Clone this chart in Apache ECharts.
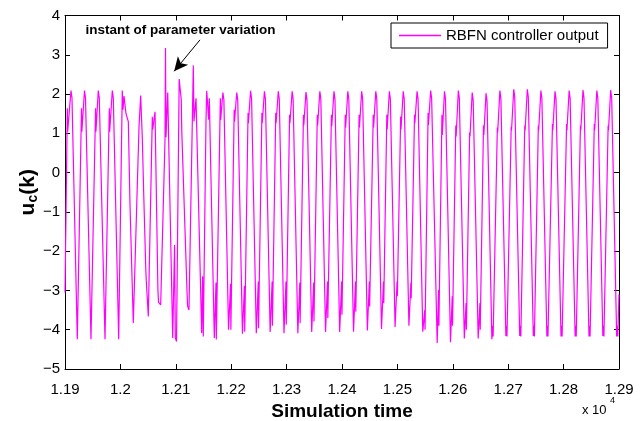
<!DOCTYPE html>
<html>
<head>
<meta charset="utf-8">
<script src="https://cdn.jsdelivr.net/npm/echarts@6/dist/echarts.min.js"></script>
<style>
  html, body { margin: 0; padding: 0; background: #fff; }
  #chart { width: 644px; height: 421px; }
</style>
</head>
<body>
<div id="chart"></div>
<script>
// ---- data (time, controller output) ----
const seriesName = 'RBFN controller output';
const xTickLabels = ['1.19','1.2','1.21','1.22','1.23','1.24','1.25','1.26','1.27','1.28','1.29'];
const yTickLabels = ['−5','−4','−3','−2','−1','0','1','2','3','4'];

const outputBeforeChange = [
  [11900,-3.05],
  [11904.2,1.64],[11904.8,1.04],[11910.8,2.09],[11912.6,1.9],[11922.2,-4.24],
  [11929.8,1.64],[11930.4,1.04],[11935.2,2.09],[11937,1.9],[11946.9,-4.24],
  [11955.2,1.64],[11955.8,1.04],[11960.1,2.09],[11961.9,1.9],[11972.2,-4.24],
  [11980,1.64],[11980.6,1.04],[11985.4,2.09],[11987.2,1.9],[11996.9,-4.24]
];

const outputTransient = [
  [12003.4,2.09],[12004.7,1.6],[12006.5,1.95],[12010.1,1.5],[12014.3,1.3],[12017.3,-0.8],[12023.3,-3.83],
  [12033.6,1.17],[12036.6,1.96],[12039.5,0.9],[12041.3,-0.1],[12041.9,-0.44],[12045.8,-2.45],[12046.7,-2.75],[12050.4,-3.66],
  [12057.6,1.42],[12058.3,1.09],[12062.5,1.55],[12067.7,-2.98],[12068.8,-3.3],[12072.7,-3.37],
  [12080.5,0.83],[12081.4,3.17],[12082.3,0.9],[12085.4,2.04],[12094.4,-4.21],[12097.8,-1.84],[12099.1,-4.2],[12101.3,-4.3],
  [12106.1,2.38],[12109.9,1.85],[12110.8,1.05],[12120.2,-3.0],[12121.3,-3.4],[12123.8,-3.5],
  [12131.6,2.73],[12132.8,1.3],[12136.5,1.89],[12146.7,-4.08],[12148.5,-2.64],[12149.6,-4.17],
  [12154.5,1.3],[12155.8,2.08],[12159.4,1.35],[12160.5,1.89],[12169.5,-4.21],[12172.6,-2.8],[12173.1,-4.25]
];

const outputAfterChange = [
  [12180.4,1.89],[12181,1.34],[12185,2.04],[12186.8,1.85],[12195.2,-4.0],[12198.9,-2.83],[12199.4,-4.0],
  [12205.4,1.6],[12206,1.3],[12210,2.04],[12211.8,1.85],[12220.3,-4.1],[12223.9,-2.89],[12224.4,-4.05],
  [12230.4,1.52],[12231,1.26],[12235,2.08],[12236.8,1.88],[12245.3,-4.09],[12248.9,-2.77],[12249.4,-3.96],
  [12255.4,1.52],[12256,1.26],[12260,2.07],[12261.8,1.87],[12270.3,-4.06],[12273.9,-2.77],[12274.4,-3.9],
  [12280.4,1.52],[12281,1.26],[12285,2.07],[12286.8,1.87],[12295.3,-4.09],[12298.9,-2.77],[12299.4,-3.87],
  [12305.4,1.47],[12306,1.26],[12310,2.07],[12311.8,1.87],[12320.3,-4.09],[12323.9,-2.8],[12324.4,-3.83],
  [12330.4,1.47],[12331,1.2],[12335,2.05],[12336.8,1.85],[12345.3,-4.06],[12348.9,-2.8],[12349.4,-3.79],
  [12355.4,1.47],[12356,1.2],[12360,2.07],[12361.8,1.87],[12370.3,-4.06],[12373.9,-2.77],[12374.4,-3.7],
  [12380.9,1.47],[12381.5,1.18],[12385.5,2.07],[12387.3,1.87],[12395.8,-4.06],[12399.4,-2.77],[12399.9,-3.62],
  [12405.9,1.47],[12406.5,1.15],[12410.5,2.07],[12412.3,1.87],[12420.8,-4.05],[12424.4,-2.77],[12424.9,-3.54],
  [12430.9,1.47],[12431.5,1.15],[12435.5,2.07],[12437.3,1.87],[12445.8,-4.02],[12449.4,-2.77],[12449.9,-3.41],
  [12456.4,1.47],[12457,1.15],[12461,2.07],[12462.8,1.87],[12471.3,-3.98],[12474.9,-2.77],[12475.4,-3.32],
  [12480.9,1.47],[12481.5,1.1],[12485.5,2.07],[12487.3,1.87],[12495.8,-3.93],[12499.4,-2.77],[12499.9,-3.15],
  [12505.9,1.43],[12506.5,1.1],[12510.5,2.07],[12512.3,1.87],[12520.8,-3.9],[12524.4,-2.8],[12524.9,-3.2],
  [12530.9,1.47],[12531.5,1.26],[12535.5,2.07],[12537.3,1.87],[12545.8,-4.05],[12549.4,-3.5],[12549.9,-4.0],
  [12555.4,1.52],[12556,1.21],[12560,2.09],[12561.8,1.89],[12571.8,-4.34],[12574.4,-2.99],[12574.9,-3.9],
  [12580.4,1.47],[12581,0.96],[12585,2.07],[12586.8,1.87],[12595.8,-4.32],[12599,-3.15],[12599.5,-3.9],
  [12605.4,1.2],[12606,0.92],[12610,2.09],[12611.8,1.89],[12620.8,-4.22],[12624,-3.32],[12624.5,-4.0],
  [12630.4,1.02],[12631,0.92],[12635,2.04],[12636.8,1.84],[12645.8,-4.22],[12649,-3.32],[12649.5,-4.0],
  [12655.4,1.2],[12656,0.96],[12660,2.02],[12661.8,1.82],[12670.5,-4.24],[12672.3,-3.9],[12672.8,-4.17],
  [12680.4,1.15],[12681,1.02],[12685,2.09],[12686.8,1.89],[12695.8,-4.16],[12697.3,-3.9],[12697.8,-4.17],
  [12705.4,1.17],[12706,1.07],[12710,2.12],[12711.8,1.92],[12720.8,-4.16],[12722.3,-3.9],[12722.8,-4.17],
  [12729.9,1.2],[12730.5,1.07],[12734.5,2.12],[12736.3,1.92],[12745.3,-4.16],[12746.8,-3.9],[12747.3,-4.17],
  [12754.4,1.2],[12755,1.07],[12759,2.09],[12760.8,1.89],[12769.8,-4.17],[12771.3,-3.9],[12771.8,-4.17],
  [12779.9,1.24],[12780.5,1.07],[12784.5,2.07],[12786.3,1.87],[12795.3,-4.17],[12796.8,-3.9],[12797.3,-4.17],
  [12805.4,1.24],[12806,1.07],[12810,2.09],[12811.8,1.89],[12820.8,-4.17],[12822.3,-3.9],[12822.8,-4.17],
  [12830.4,1.2],[12831,1.07],[12835,2.1],[12836.8,1.9],[12845.8,-4.17],[12847.3,-3.9],[12847.8,-4.17],
  [12855.4,1.24],[12856,1.07],[12860,2.09],[12861.8,1.89],[12870.8,-4.16],[12872.3,-3.9],[12872.8,-4.17],
  [12880.4,1.2],[12881,1.07],[12885,2.1],[12886.8,1.9],[12895.8,-4.17],[12897.3,-3.9],[12897.8,-4.17],
  [12900,-3.1]
];

const rbfnOutput = outputBeforeChange.concat(outputTransient, outputAfterChange);

const FONT = 'Liberation Sans, Arial, Helvetica, sans-serif';
const LINE_COLOR = '#ff00ff';
const chart = echarts.init(document.getElementById('chart'), null, { renderer: 'canvas' });

function axisCommon() {
  return {
    axisLine: { show: true, onZero: false, lineStyle: { color: '#000', width: 1 } },
    axisTick: { show: true, inside: true, length: 5, lineStyle: { color: '#000', width: 1 } },
    splitLine: { show: false },
    nameMoveOverlap: false
  };
}

chart.setOption({
  animation: false,
  backgroundColor: '#fff',
  grid: { left: 65, right: 25, top: 15.5, bottom: 52, containLabel: false, outerBoundsMode: 'none' },
  legend: {
    data: [{ name: seriesName, icon: 'rect', itemStyle: { color: LINE_COLOR, borderWidth: 0, opacity: 1 } }],
    left: 391, top: 23,
    padding: [5, 9, 5, 8],
    borderColor: '#000', borderWidth: 1, borderRadius: 0,
    backgroundColor: '#fff',
    itemWidth: 42, itemHeight: 1.5,
    itemGap: 8,
    inactiveColor: LINE_COLOR,
    inactiveBorderColor: LINE_COLOR,
    textStyle: { fontFamily: FONT, fontSize: 15, color: '#000' }
  },
  xAxis: [
    Object.assign(axisCommon(), {
      type: 'value', min: 11900, max: 12900, interval: 100,
      position: 'bottom',
      axisLabel: {
        color: '#000', fontFamily: FONT, fontSize: 15, margin: 13,
        formatter: function (v) { return xTickLabels[Math.round((v - 11900) / 100)]; }
      },
      name: 'Simulation time', nameLocation: 'middle', nameGap: 33,
      nameTextStyle: { fontFamily: FONT, fontSize: 19, fontWeight: 'bold', color: '#000' }
    }),
    Object.assign(axisCommon(), {
      type: 'value', min: 11900, max: 12900, interval: 100,
      position: 'top', axisLabel: { show: false }
    })
  ],
  yAxis: [
    Object.assign(axisCommon(), {
      type: 'value', min: -5, max: 4, interval: 1,
      position: 'left',
      axisLabel: {
        color: '#000', fontFamily: FONT, fontSize: 15, margin: 5,
        formatter: function (v) { return yTickLabels[Math.round(v + 5)]; }
      },
      name: '{b|u}{s|c}{b|(k)}', nameLocation: 'middle', nameGap: 25, nameRotate: 90,
      nameTextStyle: {
        rich: {
          b: { fontFamily: FONT, fontSize: 21, fontWeight: 'bold', color: '#000' },
          s: { fontFamily: FONT, fontSize: 14, fontWeight: 'bold', color: '#000', verticalAlign: 'bottom', padding: [9, 0, 0, 0] }
        }
      }
    }),
    Object.assign(axisCommon(), {
      type: 'value', min: -5, max: 4, interval: 1,
      position: 'right', axisLabel: { show: false }
    })
  ],
  graphic: [
    { type: 'text', left: 582, top: 404, style: { text: 'x 10', fontFamily: FONT, fontSize: 13, fill: '#000' } },
    { type: 'text', left: 610, top: 396, style: { text: '4', fontFamily: FONT, fontSize: 9, fill: '#000' } }
  ],
  series: [{
    name: seriesName,
    type: 'line',
    data: rbfnOutput,
    xAxisIndex: 0, yAxisIndex: 0,
    showSymbol: false, symbol: 'none',
    lineStyle: { color: LINE_COLOR, width: 1.2 },
    itemStyle: { color: LINE_COLOR },
    clip: true,
    markLine: {
      silent: true,
      symbol: ['none', 'arrow'],
      symbolSize: [10, 14],
      lineStyle: { color: '#000', width: 1, type: 'solid' },
      label: { show: false },
      data: [[ { coord: [12143.7, 3.38] }, { coord: [12097, 2.58] } ]]
    },
    markPoint: {
      silent: true,
      symbol: 'circle', symbolSize: 0,
      data: [{
        coord: [12108.5, 3.63],
        label: {
          show: true, position: 'inside',
          formatter: 'instant of parameter variation',
          fontFamily: FONT, fontSize: 13.5, fontWeight: 'bold', color: '#000'
        }
      }]
    }
  }]
});
</script>
</body>
</html>
